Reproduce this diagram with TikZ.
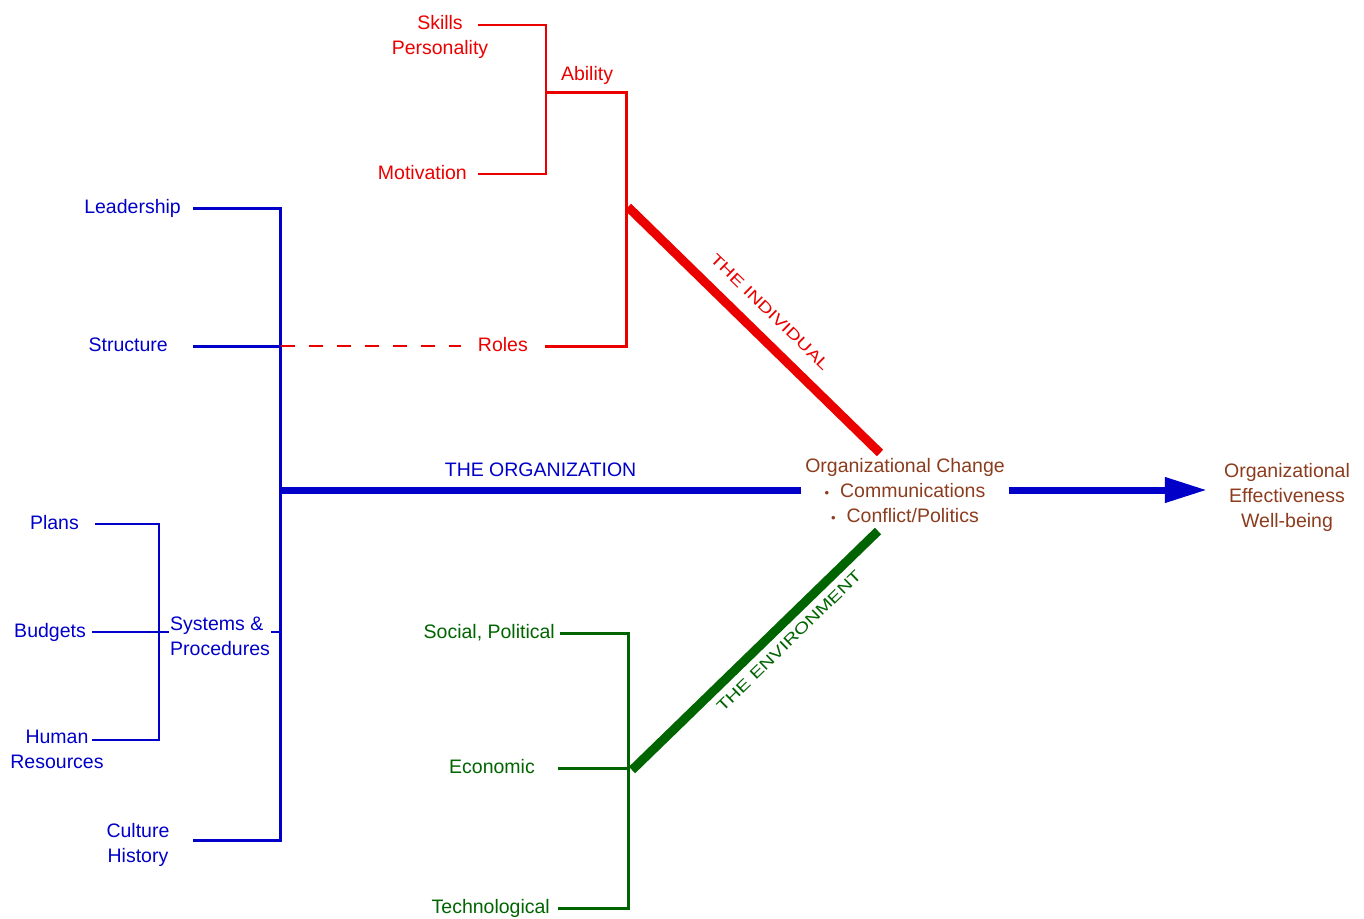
\documentclass[tikz,border=0pt]{standalone}
\usepackage{fontspec}
\setmainfont{Liberation Sans}
\usetikzlibrary{arrows.meta}
\definecolor{cred}{RGB}{235,0,0}
\definecolor{cblue}{RGB}{0,0,200}
\definecolor{cgreen}{RGB}{0,100,0}
\definecolor{cbrown}{RGB}{140,60,30}
\begin{document}
\begin{tikzpicture}[x=1pt,y=-1pt,
  lbl/.style={font=\fontsize{19.5}{25}\selectfont, inner ysep=0pt, text height=14pt, text depth=4pt},
  mlbl/.style={font=\fontsize{19.5}{25}\selectfont, inner sep=0pt, align=center},
  slbl/.style={font=\fontsize{15.5}{16}\selectfont, inner sep=0pt},
  thin/.style={line width=1.8pt},
  med/.style={line width=3pt},
  thick/.style={line width=7pt},
  xthick/.style={line width=9pt}]
\useasboundingbox (0,0) rectangle (1364,918);
% ---------- red: the individual ----------
\node[mlbl,cred] (skp) at (440,37) {Skills\\Personality};
\coordinate (skE) at (478,25);
\coordinate (abJ) at (546,92);
\coordinate (rlJ) at (626,346);
\node[lbl,cred,anchor=east,inner xsep=11pt] (mot) at (478,174) {Motivation};
\node[lbl,cred] (abl) at (587,75) {Ability};
\node[lbl,cred,anchor=east,inner xsep=17pt] (roles) at (545,346) {Roles};
\draw[cred,thin] (skE) -| (abJ) |- (mot.east);
\draw[cred,med] (abJ) -| (rlJ) -- (roles.east);
\coordinate (indS) at (628,207);
\coordinate (indE) at (880,453);
\draw[cred,xthick] (indS) -- (indE);
\node[slbl,cred,rotate=-44.3] (indl) at (770,312) {\scalebox{1.3}[1]{THE INDIVIDUAL}};
% ---------- blue: the organization ----------
\coordinate (bTop) at (280,208);
\coordinate (bBot) at (280,840);
\coordinate (stJ) at (281,346);
\coordinate (orgJ) at (280,490);
\node[lbl,cblue,anchor=east,inner xsep=12pt] (lead) at (193,208) {Leadership};
\node[lbl,cblue,anchor=east,inner xsep=25pt] (str) at (193,346) {Structure};
\node[mlbl,cblue] (cult) at (138,845) {Culture\\History};
\coordinate (cuE) at (193,840);
\draw[cblue,med] (lead.east) -| (bBot) -- (cuE);
\draw[cblue,med] (str.east) -- (stJ);
\draw[cred,thin,dash pattern=on 14pt off 14pt] (stJ) -- (roles.west);
% systems & procedures
\node[lbl,cblue,anchor=east,inner xsep=16pt] (plans) at (95,524) {Plans};
\node[lbl,cblue,anchor=east,inner xsep=6pt] (bud) at (92,632) {Budgets};
\node[mlbl,cblue] (hum) at (57,749) {Human\\Resources};
\coordinate (huE) at (92,740);
\coordinate (sysB) at (159,740);
\node[mlbl,cblue,anchor=west,align=left,inner xsep=1pt] (sys) at (169,636) {Systems \&\\Procedures};
\draw[cblue,thin] (plans.east) -| (sysB) -- (huE);
\draw[cblue,thin] (bud.east) -- (bud.east -| sys.west);
\draw[cblue,thin] (sys.east |- bud.east) -- (bud.east -| bBot);
% centre
\node[mlbl,cbrown,inner xsep=4pt] (chg) at (905,491) {Organizational Change\\{\fontsize{13}{13}\selectfont\textbullet}\ \ Communications\\{\fontsize{13}{13}\selectfont\textbullet}\ \ Conflict/Politics};
\node[mlbl,cbrown,inner xsep=17pt] (eff) at (1287,497) {Organizational\\Effectiveness\\Well-being};
\draw[cblue,thick] (orgJ) -- (chg.west |- orgJ) node[pos=0.5,above=6pt,lbl,cblue,inner sep=0pt] (orgl) {THE ORGANIZATION};
\draw[cblue,thick,-{Triangle[length=42pt,width=24pt]}] (chg.east |- orgJ) -- (eff.west |- orgJ);
% ---------- green: the environment ----------
\node[lbl,cgreen,anchor=east,inner xsep=5pt] (soc) at (560,633) {Social, Political};
\node[lbl,cgreen,anchor=east,inner xsep=23pt] (eco) at (558,768) {Economic};
\node[lbl,cgreen,anchor=east,inner xsep=8pt] (tech) at (558,908) {Technological};
\coordinate (gBot) at (628,908);
\coordinate (ecoJ) at (628,768);
\draw[cgreen,med] (soc.east) -| (gBot) -- (tech.east);
\draw[cgreen,med] (eco.east) -- (ecoJ);
\coordinate (envS) at (632,770);
\coordinate (envE) at (878,531);
\draw[cgreen,xthick] (envS) -- (envE);
\node[slbl,cgreen,rotate=44.2] (envl) at (789,641) {\scalebox{1.3}[1]{THE ENVIRONMENT}};
\end{tikzpicture}
\end{document}
